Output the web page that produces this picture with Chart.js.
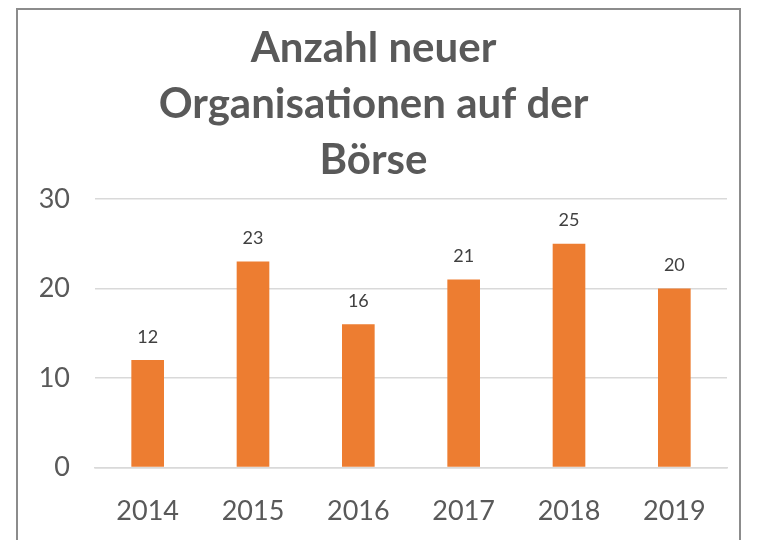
<!DOCTYPE html>
<html>
<head>
<meta charset="utf-8">
<script src="https://cdn.jsdelivr.net/npm/chart.js@4"></script>
<style>
  body { margin: 0; background: #fff; }
  #box {
    position: absolute; left: 16px; top: 8px;
    width: 725px; height: 540px;
    border: 2px solid #8c8c8c; box-sizing: border-box;
  }
  #chart { display: block; }
</style>
</head>
<body>
<div id="box"><canvas id="chart" width="721" height="538"></canvas></div>
<script>
const years = ["2014", "2015", "2016", "2017", "2018", "2019"];
const newOrgs = [12, 23, 16, 21, 25, 20];
const yTicks = [0, 10, 20, 30];
const titleLines = ["Anzahl neuer", "Organisationen auf der", "Börse"];

const fontName = "Lato, 'Open Sans', sans-serif";
const textGray = "#595959";

// numbers above the bars
const barLabels = {
    id: "barLabels",
    afterDatasetsDraw(chart) {
        const ctx = chart.ctx;
        const meta = chart.getDatasetMeta(0);
        ctx.save();
        ctx.font = "18px " + fontName;
        ctx.fillStyle = "#404040";
        ctx.textAlign = "center";
        ctx.textBaseline = "bottom";
        meta.data.forEach((bar, i) => {
            ctx.fillText(newOrgs[i], bar.x, bar.y - 14);
        });
        ctx.restore();
    }
};

new Chart(document.getElementById("chart"), {
    type: "bar",
    data: {
        labels: years,
        datasets: [{
            data: newOrgs,
            backgroundColor: "#ed7d31",
            categoryPercentage: 1,
            barPercentage: 0.31
        }]
    },
    options: {
        responsive: false,
        animation: false,
        layout: { padding: { left: 2, right: 12, top: 10, bottom: 2 } },
        plugins: {
            legend: { display: false },
            tooltip: { enabled: false },
            title: {
                display: true,
                text: titleLines,
                color: textGray,
                font: { family: fontName, size: 42, weight: "bold", lineHeight: 1.34 },
                padding: { top: 0, bottom: 10 }
            }
        },
        scales: {
            y: {
                min: 0, max: 30,
                afterBuildTicks: (axis) => { axis.ticks = yTicks.map(v => ({ value: v })); },
                afterFit: (axis) => { axis.width = 75; },
                border: { display: false },
                grid: { color: "#d9d9d9", lineWidth: 1.5, drawTicks: false },
                ticks: { color: textGray, font: { family: fontName, size: 27 }, padding: 25 }
            },
            x: {
                border: { color: "#d9d9d9", width: 1.5 },
                grid: { display: false },
                ticks: { color: textGray, font: { family: fontName, size: 27 }, padding: 19 }
            }
        }
    },
    plugins: [barLabels]
});
</script>
</body>
</html>
